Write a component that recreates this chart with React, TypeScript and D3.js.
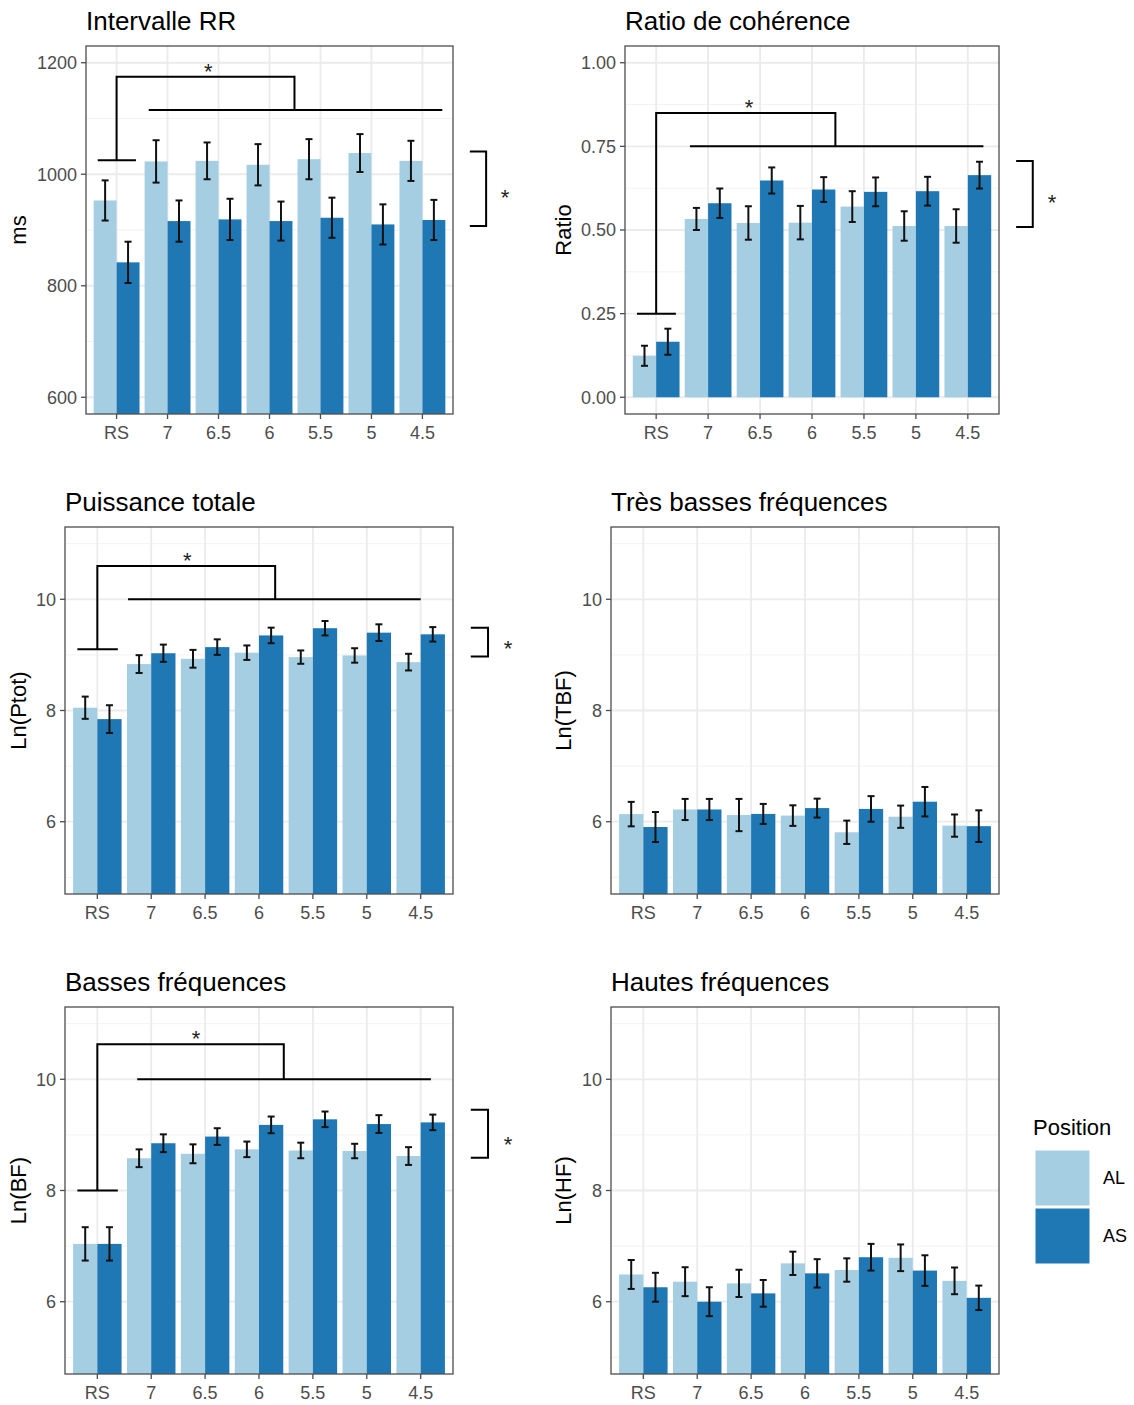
import React from "react";
import * as d3 from "d3";

const categories = ["RS", "7", "6.5", "6", "5.5", "5", "4.5"];
const groups = ["AL", "AS"];
const groupColors = ["#A6CEE3", "#1F78B4"];

const rrAL = [953, 1023, 1024, 1017, 1027, 1038, 1024];
const rrALErr = [36, 38, 33, 37, 36, 34, 36];
const rrAS = [842, 916, 919, 916, 922, 910, 918];
const rrASErr = [37, 37, 37, 35, 36, 36, 36];

const cohAL = [0.124, 0.533, 0.521, 0.522, 0.57, 0.512, 0.512];
const cohALErr = [0.03, 0.033, 0.05, 0.05, 0.046, 0.044, 0.05];
const cohAS = [0.166, 0.58, 0.648, 0.621, 0.614, 0.616, 0.664];
const cohASErr = [0.039, 0.044, 0.039, 0.037, 0.043, 0.043, 0.04];

const ptotAL = [8.05, 8.835, 8.93, 9.04, 8.96, 8.99, 8.87];
const ptotALErr = [0.2, 0.16, 0.16, 0.13, 0.12, 0.13, 0.15];
const ptotAS = [7.845, 9.03, 9.14, 9.35, 9.48, 9.4, 9.37];
const ptotASErr = [0.25, 0.155, 0.14, 0.14, 0.13, 0.15, 0.13];

const tbfAL = [6.137, 6.22, 6.12, 6.11, 5.81, 6.09, 5.93];
const tbfALErr = [0.22, 0.19, 0.29, 0.185, 0.21, 0.2, 0.2];
const tbfAS = [5.905, 6.22, 6.14, 6.245, 6.23, 6.36, 5.92];
const tbfASErr = [0.27, 0.19, 0.18, 0.17, 0.23, 0.265, 0.285];

const bfAL = [7.04, 8.58, 8.66, 8.74, 8.72, 8.71, 8.62];
const bfALErr = [0.3, 0.16, 0.17, 0.14, 0.14, 0.13, 0.16];
const bfAS = [7.04, 8.85, 8.97, 9.18, 9.28, 9.195, 9.225];
const bfASErr = [0.3, 0.16, 0.15, 0.15, 0.14, 0.16, 0.14];

const hfAL = [6.49, 6.36, 6.33, 6.69, 6.57, 6.79, 6.375];
const hfALErr = [0.26, 0.26, 0.245, 0.21, 0.21, 0.24, 0.24];
const hfAS = [6.26, 6.0, 6.15, 6.51, 6.8, 6.56, 6.07];
const hfASErr = [0.26, 0.26, 0.24, 0.255, 0.24, 0.275, 0.22];

const rrTicks = [600, 800, 1000, 1200];
const cohTicks = [0, 0.25, 0.5, 0.75, 1];
const lnTicks = [6, 8, 10];

// significance annotations (data units): [baseY, topY, dropX, longY, longX0, longX1, starX, starY]
const rrSig = [1025, 1175, 3.49, 1115, 0.63, 6.39, 1.8, 1194];
const cohSig = [0.25, 0.85, 3.45, 0.75, 0.65, 6.3, 1.79, 0.883];
const ptotSig = [9.1, 10.6, 3.3, 10.0, 0.57, 6.0, 1.67, 10.8];
const bfSig = [8.0, 10.63, 3.46, 10.0, 0.74, 6.19, 1.83, 10.83];
// side bracket: [topY, bottomY, starY]
const rrSide = [1041, 907, 968];
const cohSide = [0.706, 0.509, 0.6];
const ptotSide = [9.49, 8.97, 9.22];
const bfSide = [9.45, 8.59, 8.93];

const FONT = "'Liberation Sans', Arial, Helvetica, sans-serif";

type PanelProps = {
  title: string;
  yLabel: string;
  left: number;
  right: number;
  top: number;
  bottom: number;
  domain: [number, number];
  ticks: number[];
  minor: number[];
  fmt: (v: number) => string;
  al: number[];
  alErr: number[];
  as: number[];
  asErr: number[];
  sig?: number[];
  side?: number[];
  yLabelX: number;
  id: string;
};

function Panel(p: PanelProps) {
  const x = d3
    .scaleBand<string>()
    .domain(categories)
    .range([p.left, p.right])
    .paddingInner(0.1)
    .paddingOuter(0.15);
  const xu = d3.scaleLinear().domain([-0.6, 6.6]).range([p.left, p.right]);
  const y = d3.scaleLinear().domain(p.domain).range([p.bottom, p.top]);
  const sub = d3.scaleBand<string>().domain(groups).range([0, x.bandwidth()]);
  const base = Math.max(0, p.domain[0]);
  const series = [
    { vals: p.al, errs: p.alErr },
    { vals: p.as, errs: p.asErr },
  ];
  const capHalf = 3.5;
  const lw = 2;
  return (
    <g>
      <defs>
        <clipPath id={"clip" + p.id}>
          <rect x={p.left} y={p.top} width={p.right - p.left} height={p.bottom - p.top} />
        </clipPath>
      </defs>
      <text x={p.left} y={p.top - 16} fontSize={26} fontFamily={FONT} fill="#000">
        {p.title}
      </text>
      <rect x={p.left} y={p.top} width={p.right - p.left} height={p.bottom - p.top} fill="#fff" />
      {p.minor.map((v) => (
        <line key={"mn" + v} x1={p.left} x2={p.right} y1={y(v)} y2={y(v)} stroke="#F2F2F2" strokeWidth={1} />
      ))}
      {p.ticks.map((v) => (
        <line key={"mj" + v} x1={p.left} x2={p.right} y1={y(v)} y2={y(v)} stroke="#EBEBEB" strokeWidth={1.8} />
      ))}
      {categories.map((c) => (
        <line
          key={"vx" + c}
          x1={(x(c) as number) + x.bandwidth() / 2}
          x2={(x(c) as number) + x.bandwidth() / 2}
          y1={p.top}
          y2={p.bottom}
          stroke="#EBEBEB"
          strokeWidth={1.8}
        />
      ))}
      <g clipPath={`url(#clip${p.id})`}>
        {series.map((s, gi) =>
          categories.map((c, i) => {
            const bx = (x(c) as number) + (sub(groups[gi]) as number);
            const top = y(s.vals[i]);
            return (
              <rect
                key={"b" + gi + c}
                x={bx}
                y={top}
                width={sub.bandwidth()}
                height={y(base) - top}
                fill={groupColors[gi]}
              />
            );
          })
        )}
        {series.map((s, gi) =>
          categories.map((c, i) => {
            const cx = (x(c) as number) + (sub(groups[gi]) as number) + sub.bandwidth() / 2;
            const hi = y(s.vals[i] + s.errs[i]);
            const lo = y(s.vals[i] - s.errs[i]);
            return (
              <g key={"e" + gi + c} stroke="#111" strokeWidth={lw}>
                <line x1={cx} x2={cx} y1={hi} y2={lo} />
                <line x1={cx - capHalf} x2={cx + capHalf} y1={hi} y2={hi} />
                <line x1={cx - capHalf} x2={cx + capHalf} y1={lo} y2={lo} />
              </g>
            );
          })
        )}
      </g>
      <rect
        x={p.left}
        y={p.top}
        width={p.right - p.left}
        height={p.bottom - p.top}
        fill="none"
        stroke="#4D4D4D"
        strokeWidth={1.3}
      />
      {p.ticks.map((v) => (
        <g key={"yt" + v}>
          <line x1={p.left - 5} x2={p.left} y1={y(v)} y2={y(v)} stroke="#4D4D4D" strokeWidth={1.3} />
          <text
            x={p.left - 9}
            y={y(v)}
            dy="0.35em"
            textAnchor="end"
            fontSize={18}
            fontFamily={FONT}
            fill="#4D4D4D"
          >
            {p.fmt(v)}
          </text>
        </g>
      ))}
      {categories.map((c) => {
        const cx = (x(c) as number) + x.bandwidth() / 2;
        return (
          <g key={"xt" + c}>
            <line x1={cx} x2={cx} y1={p.bottom} y2={p.bottom + 5} stroke="#4D4D4D" strokeWidth={1.3} />
            <text x={cx} y={p.bottom + 25} textAnchor="middle" fontSize={18} fontFamily={FONT} fill="#4D4D4D">
              {c}
            </text>
          </g>
        );
      })}
      <text
        transform={`translate(${p.yLabelX},${(p.top + p.bottom) / 2}) rotate(-90)`}
        textAnchor="middle"
        fontSize={22}
        fontFamily={FONT}
        fill="#000"
      >
        {p.yLabel}
      </text>
      {p.sig && (
        <g stroke="#000" strokeWidth={2} fill="none">
          <line x1={xu(-0.37)} x2={xu(0.38)} y1={y(p.sig[0])} y2={y(p.sig[0])} />
          <polyline
            points={[
              [xu(0), y(p.sig[0])],
              [xu(0), y(p.sig[1])],
              [xu(p.sig[2]), y(p.sig[1])],
              [xu(p.sig[2]), y(p.sig[3])],
            ]
              .map((q) => q.join(","))
              .join(" ")}
          />
          <line x1={xu(p.sig[4])} x2={xu(p.sig[5])} y1={y(p.sig[3])} y2={y(p.sig[3])} />
        </g>
      )}
      {p.sig && (
        <text
          x={xu(p.sig[6])}
          y={y(p.sig[7])}
          dy="0.6em"
          textAnchor="middle"
          fontSize={22}
          fontFamily={FONT}
          fill="#222"
        >
          *
        </text>
      )}
      {p.side && (
        <g>
          <polyline
            points={[
              [xu(6.93), y(p.side[0])],
              [xu(7.25), y(p.side[0])],
              [xu(7.25), y(p.side[1])],
              [xu(6.93), y(p.side[1])],
            ]
              .map((q) => q.join(","))
              .join(" ")}
            stroke="#000"
            strokeWidth={2}
            fill="none"
          />
          <text
            x={xu(7.62)}
            y={y(p.side[2])}
            dy="0.6em"
            textAnchor="middle"
            fontSize={22}
            fontFamily={FONT}
            fill="#222"
          >
            *
          </text>
        </g>
      )}
    </g>
  );
}

export default function App() {
  const lnMinor = [5, 7, 9, 11];
  const lnDomain: [number, number] = [4.7, 11.3];
  const fmtInt = (v: number) => d3.format("d")(v);
  const fmt2 = (v: number) => d3.format(".2f")(v);
  return (
    <svg
      width={1134}
      height={1405}
      style={{ position: "absolute", left: 0, top: 0, background: "#fff" }}
      fontFamily={FONT}
    >
      <rect x={0} y={0} width={1134} height={1405} fill="#fff" />
      <Panel
        id="rr"
        title="Intervalle RR"
        yLabel="ms"
        left={86}
        right={453}
        top={46}
        bottom={414}
        domain={[570, 1230]}
        ticks={rrTicks}
        minor={[700, 900, 1100]}
        fmt={fmtInt}
        al={rrAL}
        alErr={rrALErr}
        as={rrAS}
        asErr={rrASErr}
        sig={rrSig}
        side={rrSide}
        yLabelX={26}
      />
      <Panel
        id="coh"
        title="Ratio de cohérence"
        yLabel="Ratio"
        left={625}
        right={999}
        top={46}
        bottom={414}
        domain={[-0.05, 1.05]}
        ticks={cohTicks}
        minor={[0.125, 0.375, 0.625, 0.875]}
        fmt={fmt2}
        al={cohAL}
        alErr={cohALErr}
        as={cohAS}
        asErr={cohASErr}
        sig={cohSig}
        side={cohSide}
        yLabelX={571}
      />
      <Panel
        id="ptot"
        title="Puissance totale"
        yLabel="Ln(Ptot)"
        left={65}
        right={453}
        top={527}
        bottom={894}
        domain={lnDomain}
        ticks={lnTicks}
        minor={lnMinor}
        fmt={fmtInt}
        al={ptotAL}
        alErr={ptotALErr}
        as={ptotAS}
        asErr={ptotASErr}
        sig={ptotSig}
        side={ptotSide}
        yLabelX={26}
      />
      <Panel
        id="tbf"
        title="Très basses fréquences"
        yLabel="Ln(TBF)"
        left={611}
        right={999}
        top={527}
        bottom={894}
        domain={lnDomain}
        ticks={lnTicks}
        minor={lnMinor}
        fmt={fmtInt}
        al={tbfAL}
        alErr={tbfALErr}
        as={tbfAS}
        asErr={tbfASErr}
        yLabelX={571}
      />
      <Panel
        id="bf"
        title="Basses fréquences"
        yLabel="Ln(BF)"
        left={65}
        right={453}
        top={1007}
        bottom={1374}
        domain={lnDomain}
        ticks={lnTicks}
        minor={lnMinor}
        fmt={fmtInt}
        al={bfAL}
        alErr={bfALErr}
        as={bfAS}
        asErr={bfASErr}
        sig={bfSig}
        side={bfSide}
        yLabelX={26}
      />
      <Panel
        id="hf"
        title="Hautes fréquences"
        yLabel="Ln(HF)"
        left={611}
        right={999}
        top={1007}
        bottom={1374}
        domain={lnDomain}
        ticks={lnTicks}
        minor={lnMinor}
        fmt={fmtInt}
        al={hfAL}
        alErr={hfALErr}
        as={hfAS}
        asErr={hfASErr}
        yLabelX={571}
      />
      <g>
        <text x={1033} y={1135} fontSize={22} fontFamily={FONT} fill="#000">
          Position
        </text>
        {groups.map((g, i) => (
          <g key={g}>
            <rect
              x={1035}
              y={1150 + i * 58}
              width={55}
              height={56}
              fill={groupColors[i]}
              stroke="#fff"
              strokeWidth={1}
            />
            <text
              x={1103}
              y={1150 + i * 58 + 28}
              dy="0.35em"
              fontSize={18}
              fontFamily={FONT}
              fill="#000"
            >
              {g}
            </text>
          </g>
        ))}
      </g>
    </svg>
  );
}
